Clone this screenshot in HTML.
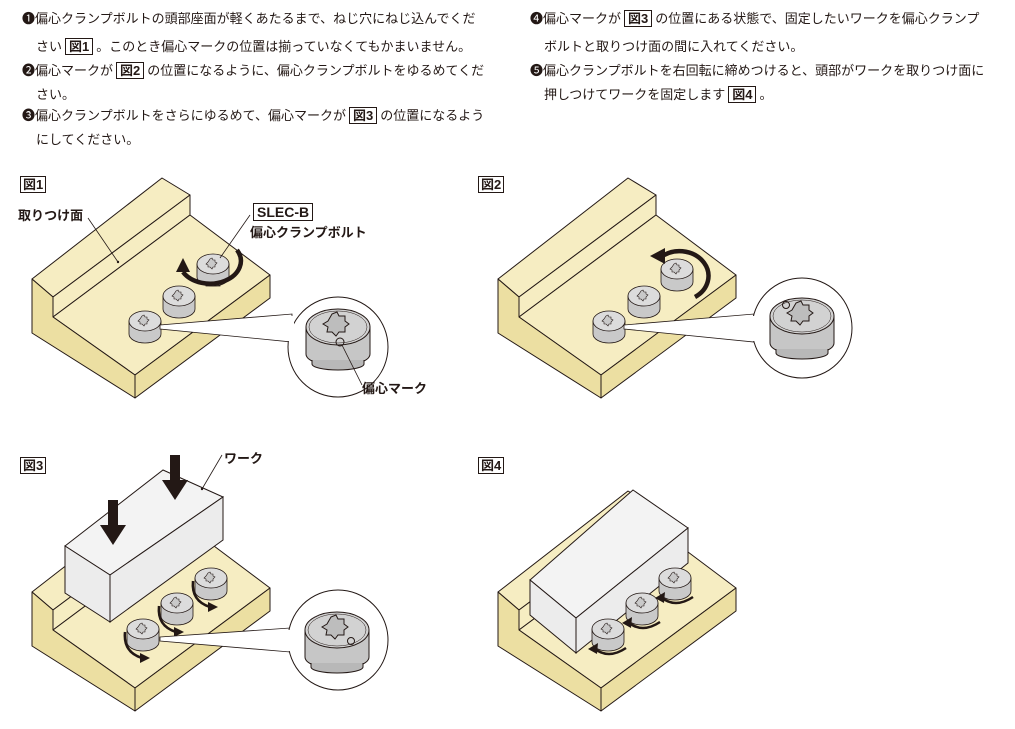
<!DOCTYPE html>
<html><head><meta charset="utf-8"><style>
body{margin:0;width:1015px;height:729px;background:#fff;overflow:hidden;position:relative;font-family:"Liberation Sans","Noto Sans CJK JP",sans-serif;color:#231815}
.t{position:absolute;font-size:13px;line-height:24px;white-space:nowrap}
.b{display:inline-block;border:1px solid #231815;font-weight:bold;padding:0 3px;line-height:15px;margin:0 3px;background:#fff}
.fl{position:absolute;border:1px solid #231815;font-weight:bold;font-size:13px;line-height:15px;padding:0 2px;background:#fff}
.lb{position:absolute;font-size:13px;font-weight:bold;white-space:nowrap}
</style></head><body>
<div class="t" style="left:22px;top:7px">❶偏心クランプボルトの頭部座面が軽くあたるまで、ねじ穴にねじ込んでくだ</div>
<div class="t" style="left:36px;top:35px">さい<span class="b">図1</span>。このとき偏心マークの位置は揃っていなくてもかまいません。</div>
<div class="t" style="left:22px;top:59px">❷偏心マークが<span class="b">図2</span>の位置になるように、偏心クランプボルトをゆるめてくだ</div>
<div class="t" style="left:36px;top:83px">さい。</div>
<div class="t" style="left:22px;top:104px">❸偏心クランプボルトをさらにゆるめて、偏心マークが<span class="b">図3</span>の位置になるよう</div>
<div class="t" style="left:36px;top:128px">にしてください。</div>
<div class="t" style="left:530px;top:7px">❹偏心マークが<span class="b">図3</span>の位置にある状態で、固定したいワークを偏心クランプ</div>
<div class="t" style="left:544px;top:35px">ボルトと取りつけ面の間に入れてください。</div>
<div class="t" style="left:530px;top:59px">❺偏心クランプボルトを右回転に締めつけると、頭部がワークを取りつけ面に</div>
<div class="t" style="left:544px;top:83px">押しつけてワークを固定します<span class="b">図4</span>。</div>

<svg width="1015" height="729" style="position:absolute;left:0;top:0">
<defs>
<g id="blk" stroke="#231815" stroke-width="1" stroke-linejoin="round">
<polygon points="32,279 162,178 190,195 53,297" fill="#f6edc2"/>
<polygon points="53,297 190,195 190,215 53,317" fill="#f6edc2"/>
<polygon points="53,317 190,215 270,275 135,375" fill="#f6edc2"/>
<polygon points="32,279 53,297 53,317 135,375 135,398 32,333" fill="#ecdfa2"/>
<polygon points="135,375 270,275 270,298 135,398" fill="#ecdfa2"/>
</g>
<g id="bolt" stroke="#231815" stroke-width="0.8">
<path d="M-16,0 L-16,13 A16,9 0 0 0 16,13 L16,0 Z" fill="#c9c9c9"/>
<ellipse cx="0" cy="0" rx="16" ry="10" fill="#dcdcdc"/>
<path d="M-3,-5 l2,-1 1,2 2,0 0,2 2,1 -2,2 0,2 -2,0 -1,2 -2,-2 -2,0 0,-2 -2,-1 2,-2 z" fill="#c9c9c9" stroke-width="0.6"/>
</g>
<g id="big" stroke="#231815" stroke-width="1">
<path d="M-32,0 L-32,27 A32,12 0 0 0 32,27 L32,0 Z" fill="#c6c6c6"/>
<path d="M-26,33 L-26,37 A26,6 0 0 0 26,37 L26,33" fill="#b8b8b8"/>
<ellipse cx="0" cy="0" rx="32" ry="18" fill="#d2d2d2"/>
<ellipse cx="0" cy="0" rx="29" ry="16" fill="none" stroke-width="0.5"/>
<path d="M-6,-13 l5,-2 2,4 6,0 0,5 4,3 -4,3 0,5 -6,0 -3,4 -4,-4 -5,0 1,-5 -5,-3 5,-3 z" fill="#bdbdbd"/>
</g>
</defs>

<!-- FIG 1 -->
<use href="#blk"/>
<use href="#bolt" x="145" y="321"/>
<use href="#bolt" x="179" y="296"/>
<path d="M206,279 l0,7 14,0 0,-7" fill="#888" stroke="#231815" stroke-width="0.8"/>
<use href="#bolt" x="213" y="264"/>
<path d="M183,272 A30,22 0 0 0 237,250" fill="none" stroke="#231815" stroke-width="4.5"/>
<polygon points="176,272 190,272 183,258" fill="#231815"/>
<polygon points="160,325 292,314 292,342 160,329" fill="#fff" stroke="#231815" stroke-width="0.8"/>
<circle cx="338" cy="347" r="50" fill="#fff" stroke="#231815" stroke-width="1"/>
<rect x="286" y="316" width="8" height="25" fill="#fff"/>
<use href="#big" x="338" y="327"/>
<circle cx="340" cy="342" r="4" fill="none" stroke="#231815"/>
<line x1="342" y1="345" x2="362" y2="385" stroke="#231815" stroke-width="0.8"/>
<line x1="118" y1="262" x2="88" y2="218" stroke="#231815" stroke-width="0.8"/>
<circle cx="118" cy="262" r="1.2" fill="#231815"/>
<line x1="220" y1="258" x2="250" y2="215" stroke="#231815" stroke-width="0.8"/>

<!-- FIG 2 -->
<use href="#blk" x="466"/>
<use href="#bolt" x="609" y="321"/>
<use href="#bolt" x="644" y="296"/>
<use href="#bolt" x="677" y="269"/>
<path d="M695,297 A28,24 0 0 0 664,255" fill="none" stroke="#231815" stroke-width="4.5"/>
<polygon points="650,256 665,248 665,264" fill="#231815"/>
<polygon points="624,325 754,314 754,342 624,329" fill="#fff" stroke="#231815" stroke-width="0.8"/>
<circle cx="802" cy="328" r="50" fill="#fff" stroke="#231815" stroke-width="1"/>
<rect x="749" y="316" width="8" height="25" fill="#fff"/>
<use href="#big" x="802" y="316"/>
<circle cx="786" cy="305" r="3.5" fill="none" stroke="#231815"/>

<!-- FIG 3 -->
<use href="#blk" y="313"/>
<polygon points="65,546 163,470 223,497 110,575" fill="#f3f3f3" stroke="#231815"/>
<polygon points="65,546 110,575 110,622 65,593" fill="#ececec" stroke="#231815"/>
<polygon points="110,575 223,497 223,540 110,622" fill="#ececec" stroke="#231815"/>
<polygon points="108,500 118,500 118,525 126,525 113,545 100,525 108,525" fill="#231815"/>
<polygon points="170,455 180,455 180,480 188,480 175,500 162,480 170,480" fill="#231815"/>
<circle cx="202" cy="489" r="1.2" fill="#231815"/>
<line x1="202" y1="489" x2="222" y2="455" stroke="#231815" stroke-width="0.8"/>
<use href="#bolt" x="143" y="629"/>
<use href="#bolt" x="177" y="603"/>
<use href="#bolt" x="211" y="578"/>
<g fill="none" stroke="#231815" stroke-width="2.5">
<path d="M125,632 Q123,652 142,658"/><path d="M159,606 Q157,626 176,632"/><path d="M193,581 Q191,601 210,607"/>
</g>
<g fill="#231815"><polygon points="140,653 150,658 140,663"/><polygon points="174,627 184,632 174,637"/><polygon points="208,602 218,607 208,612"/></g>
<polygon points="160,637 290,628 290,652 160,641" fill="#fff" stroke="#231815" stroke-width="0.8"/>
<circle cx="338" cy="640" r="50" fill="#fff" stroke="#231815" stroke-width="1"/>
<rect x="284" y="630" width="8" height="21" fill="#fff"/>
<use href="#big" x="337" y="630"/>
<circle cx="351" cy="641" r="3.5" fill="none" stroke="#231815"/>

<!-- FIG 4 -->
<use href="#blk" x="466" y="313"/>
<polygon points="530,580 633,490 688,528 576,618" fill="#f3f3f3" stroke="#231815"/>
<polygon points="530,580 576,618 576,653 530,615" fill="#ececec" stroke="#231815"/>
<polygon points="576,618 688,528 688,563 576,653" fill="#ececec" stroke="#231815"/>
<use href="#bolt" x="608" y="629"/>
<use href="#bolt" x="642" y="603"/>
<use href="#bolt" x="675" y="578"/>
<g fill="none" stroke="#231815" stroke-width="2.5">
<path d="M594,648 Q608,660 626,648"/><path d="M628,622 Q642,634 660,622"/><path d="M661,597 Q675,609 693,597"/>
</g>
<g fill="#231815"><polygon points="588,649 598,643 597,654"/><polygon points="622,623 632,617 631,628"/><polygon points="655,598 665,592 664,603"/></g>
</svg>

<div class="fl" style="left:20px;top:176px">図1</div>
<div class="fl" style="left:478px;top:176px">図2</div>
<div class="fl" style="left:20px;top:457px">図3</div>
<div class="fl" style="left:478px;top:457px">図4</div>
<div class="lb" style="left:18px;top:205px">取りつけ面</div>
<div class="lb" style="left:253px;top:203px;border:1px solid #231815;padding:0 3px;font-size:14px">SLEC-B</div>
<div class="lb" style="left:250px;top:222px">偏心クランプボルト</div>
<div class="lb" style="left:362px;top:378px">偏心マーク</div>
<div class="lb" style="left:224px;top:448px">ワーク</div>
</body></html>
